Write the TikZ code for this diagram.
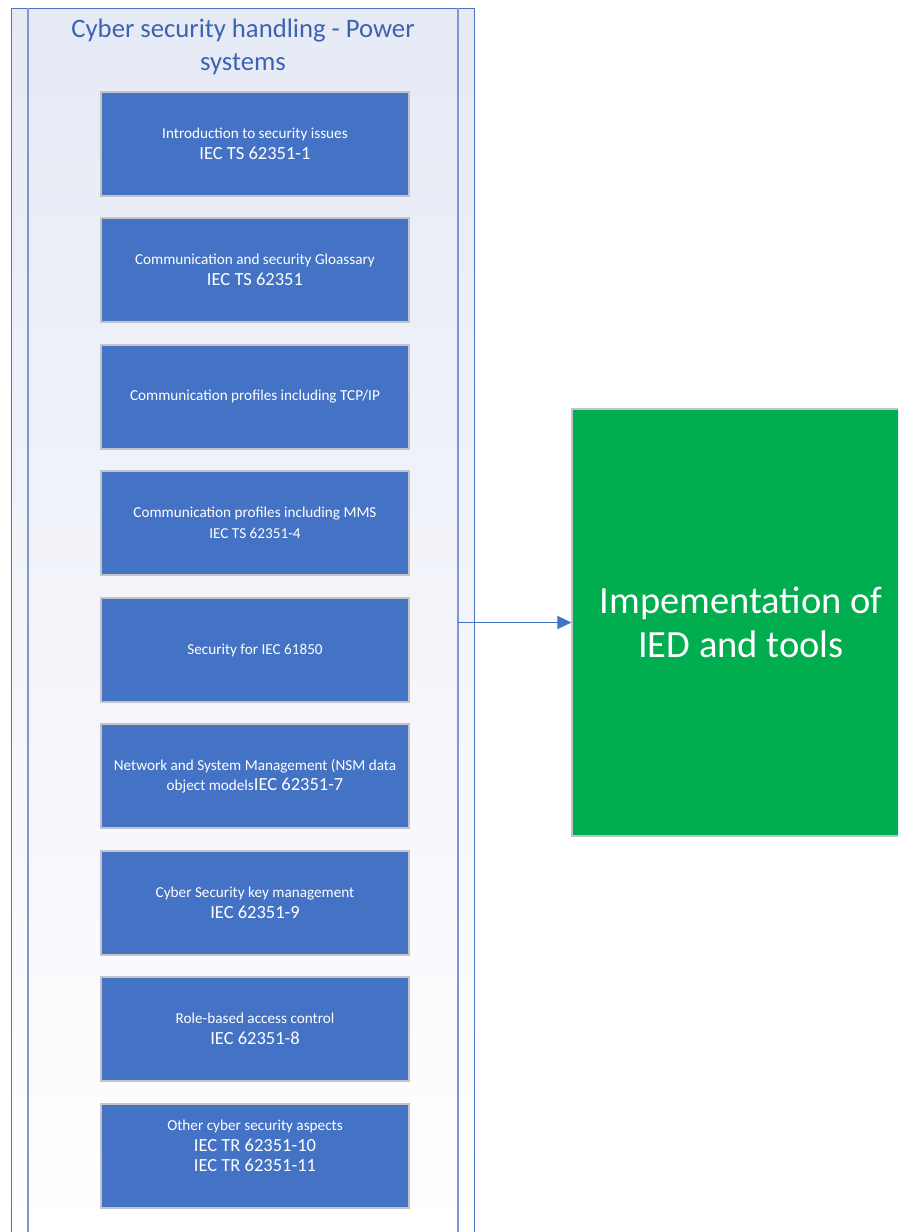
\documentclass[tikz,border=0pt]{standalone}
\usepackage{fontspec}
\setmainfont{Carlito}
\usetikzlibrary{arrows.meta}
\definecolor{accent}{HTML}{4472C4}
\definecolor{laneline}{HTML}{4E74C0}
\definecolor{innerline}{HTML}{7C97D4}
\definecolor{lanetop}{HTML}{E6EAF5}
\definecolor{titleblue}{HTML}{3C63B2}
\definecolor{boxedge}{HTML}{C4C4C4}
\definecolor{goal}{HTML}{00AD4F}
\newcommand{\boxfont}{\fontsize{15.2}{20.5}\selectfont}
\newcommand{\code}[1]{{\fontsize{18.5}{21}\selectfont #1}}
\begin{document}
\begin{tikzpicture}[x=1pt,y=-1pt,
  stdbox/.style={draw=boxedge, line width=1.2pt, fill=accent, text=white,
    minimum width=308pt, minimum height=104pt, align=center, inner sep=2pt,
    font=\boxfont},
  goalbox/.style={draw=boxedge, line width=1.2pt, fill=goal, text=white,
    minimum width=338pt, minimum height=427pt, align=center,
    font=\fontsize{38.5}{44}\selectfont},
  link/.style={accent, line width=1.4pt, -{Triangle[length=14pt,width=13pt]}}]
\useasboundingbox (0,0) rectangle (898,1232);
\clip (0,0) rectangle (898,1232);

% swimlane container
\path[top color=lanetop, bottom color=white] (11,8) rectangle (474,1240);
\draw[laneline, line width=1pt] (11,1240) -- (11,8) -- (474,8) -- (474,1240);
\draw[innerline, line width=1.2pt] (28,8) -- (28,1240);
\draw[innerline, line width=1.2pt] (458,8) -- (458,1240);

\node[titleblue, align=center, font=\fontsize{26.7}{33}\selectfont] (title) at (243,46.5)
  {Cyber security handling - Power\\systems};

% standards
\node[stdbox] (s1) at (255,144) {Introduction to security issues\\\code{IEC TS 62351-1}};
\node[stdbox] (s2) at (255,270) {Communication and security Gloassary\\\code{IEC TS 62351}};
\node[stdbox] (s3) at (255,397) {Communication profiles including TCP/IP};
\node[stdbox] (s4) at (255,523) {Communication profiles including MMS\\IEC TS 62351-4};
\node[stdbox] (s5) at (255,650) {Security for IEC 61850};
\node[stdbox] (s6) at (255,776) {Network and System Management (NSM data\\object models\code{IEC 62351-7}};
\node[stdbox] (s7) at (255,903) {Cyber Security key management\\\code{IEC 62351-9}};
\node[stdbox] (s8) at (255,1029) {Role-based access control\\\code{IEC 62351-8}};
\node[stdbox] (s9) at (255,1156) {Other cyber security aspects\\\code{IEC TR 62351-10}\\\code{IEC TR 62351-11}\\\mbox{}};

% target
\node[goalbox] (goal) at (741,622.5) {Impementation of\\IED and tools};

\coordinate (tap) at (458,622.5);
\draw[link] (tap) -- (tap -| goal.west);
\end{tikzpicture}
\end{document}
